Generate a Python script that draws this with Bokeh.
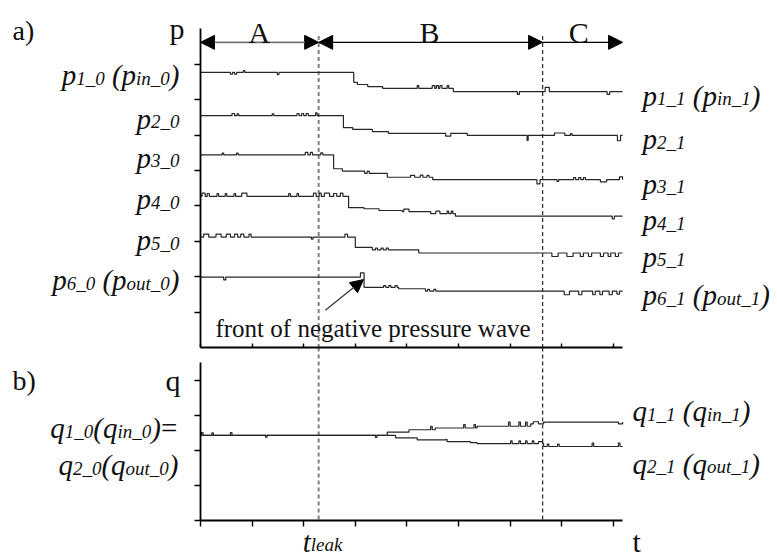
from bokeh.plotting import figure
from bokeh.models import (Label, Arrow, NormalHead, FixedTicker, LinearAxis, Range1d,
                          CustomLabelingPolicy)
from bokeh.embed import file_html
from bokeh.resources import INLINE

# ---------------- data (schematic units) ----------------
T_END = 8.18
P_TOP = 9.0
Q_TOP = 4.53
T_LEAK = 2.29
T_C = 6.63

t_ticks = [0, 1, 2, 3, 4, 5, 6, 7, 8]
p_ticks = [1, 2, 3, 4, 5, 6, 7, 8]
q_ticks = [0, 1, 2, 3, 4]

# pressure series: times of level changes and levels
p1_t = [0, 2.97, 3.04, 3.24, 3.53, 4.90]
p1_v = [7.77, 7.49, 7.43, 7.37, 7.32, 7.23]
p2_t = [0, 2.77, 2.95, 3.33, 3.64, 5.17]
p2_v = [6.55, 6.21, 6.16, 6.10, 6.05, 5.99]
p3_t = [0, 2.58, 2.75, 3.13, 3.62, 4.50]
p3_v = [5.44, 5.05, 4.98, 4.92, 4.81, 4.74]
p4_t = [0, 2.87, 3.17, 3.46, 3.91, 4.46, 4.94]
p4_v = [4.27, 3.95, 3.92, 3.87, 3.84, 3.78, 3.71]
p5_t = [0, 3.00, 3.33, 4.23]
p5_v = [3.12, 2.83, 2.76, 2.67]
p6_t = [0, 3.17, 3.84, 4.36]
p6_v = [1.99, 1.70, 1.66, 1.59]

# flow series
q1_t = [0, 3.62, 4.04, 4.55, 5.36, 6.40, 6.65]
q1_v = [2.44, 2.53, 2.60, 2.65, 2.70, 2.77, 2.82]
q2_t = [0, 3.78, 4.20, 4.75, 5.23, 5.36, 6.65]
q2_v = [2.44, 2.37, 2.31, 2.26, 2.23, 2.20, 2.12]

# measurement glitches: (time, deviation, duration)
p1_g = [(0.58, -0.05, 0.04), (0.66, -0.05, 0.04), (0.83, 0.05, 0.03), (1.49, -0.06, 0.03),
        (4.20, 0.08, 0.03), (4.49, 0.08, 0.05), (4.57, 0.08, 0.04), (4.64, 0.08, 0.04),
        (4.78, 0.08, 0.03), (6.14, -0.08, 0.04), (6.68, 0.12, 0.08), (7.88, -0.08, 0.05)]
p2_g = [(0.61, 0.06, 0.05), (0.71, 0.05, 0.03), (1.39, 0.05, 0.03), (1.87, 0.06, 0.04),
        (1.96, 0.06, 0.04), (2.05, 0.06, 0.04), (2.23, 0.08, 0.03), (4.75, -0.08, 0.10),
        (6.33, -0.14, 0.02), (6.86, 0.07, 0.20), (7.17, 0.05, 0.03), (8.08, -0.15, 0.06)]
p3_g = [(0.42, 0.05, 0.03), (0.70, 0.05, 0.03), (2.03, 0.07, 0.05), (2.13, 0.07, 0.04),
        (2.33, 0.06, 0.04), (3.13, 0.06, 0.05), (3.23, 0.06, 0.04), (4.07, 0.05, 0.08),
        (4.26, 0.06, 0.05), (4.39, 0.05, 0.04), (6.52, -0.12, 0.06), (6.91, -0.05, 0.03),
        (7.23, 0.06, 0.04), (7.33, 0.06, 0.04), (7.42, 0.06, 0.04), (7.75, -0.06, 0.12),
        (8.12, 0.08, 0.06)]
p4_g = [(0.03, 0.09, 0.06), (0.13, 0.08, 0.04), (0.32, 0.08, 0.03), (0.48, 0.08, 0.03),
        (0.65, 0.08, 0.03), (0.80, 0.09, 0.10), (1.71, 0.08, 0.03), (1.87, 0.08, 0.03),
        (2.19, 0.09, 0.05), (2.30, 0.09, 0.04), (2.40, 0.09, 0.10), (2.58, 0.08, 0.06),
        (2.71, 0.09, 0.05), (3.94, 0.07, 0.10), (4.56, 0.07, 0.08), (4.78, 0.07, 0.03),
        (4.86, 0.07, 0.03), (7.98, -0.08, 0.04)]
p5_g = [(0.06, 0.08, 0.10), (0.30, 0.08, 0.10), (0.50, 0.08, 0.08), (0.66, 0.08, 0.06),
        (0.78, 0.08, 0.06), (0.94, 0.08, 0.04), (2.15, -0.06, 0.03), (2.80, 0.08, 0.05),
        (3.39, 0.05, 0.04), (3.50, 0.05, 0.04), (3.60, 0.05, 0.04), (6.81, -0.10, 0.12),
        (7.10, -0.10, 0.12), (7.36, -0.10, 0.06), (7.52, -0.10, 0.06), (7.75, -0.10, 0.06),
        (7.90, -0.10, 0.05), (8.04, -0.10, 0.06)]
p6_g = [(0.45, -0.08, 0.04), (3.10, 0.12, 0.07), (3.55, 0.05, 0.04), (3.65, 0.05, 0.04),
        (3.77, 0.05, 0.04), (4.40, 0.05, 0.04), (4.52, 0.05, 0.04), (7.05, -0.10, 0.10),
        (7.33, -0.10, 0.06), (7.60, -0.10, 0.05), (7.74, -0.10, 0.05), (7.92, -0.10, 0.06),
        (8.07, -0.08, 0.05)]
q1_g = [(0.02, 0.08, 0.03), (0.22, 0.07, 0.03), (0.58, 0.08, 0.03), (1.26, -0.05, 0.03),
        (3.39, -0.06, 0.03), (4.46, 0.10, 0.03), (5.10, 0.10, 0.03), (5.30, 0.10, 0.03),
        (5.97, 0.12, 0.03), (6.17, 0.12, 0.03), (6.30, 0.12, 0.03), (6.45, 0.06, 0.10),
        (8.10, -0.05, 0.08)]
q2_g = [(4.75, 0.06, 0.03), (6.01, 0.08, 0.03), (6.17, 0.08, 0.03), (6.30, 0.08, 0.03),
        (6.43, 0.08, 0.03), (6.55, 0.06, 0.08), (6.72, 0.07, 0.03), (6.92, 0.07, 0.03),
        (7.59, 0.10, 0.03), (8.10, 0.10, 0.03)]

# ---------------- layout constants (pixels) ----------------
W, H = 777, 557
X0, XS = 200.0, 51.6      # screen x of t=0, px per t unit
YA0, YAS = 347.0, 35.4    # panel a: screen y of p=0, px per unit
YB0, YBS = 520.0, 34.9    # panel b: screen y of q=0, px per unit

FONT = "Liberation Serif"
LINE_C = "#262626"
TXT_C = "#111111"

W_IT = {"p": .5, "q": .5, "_": .5, " ": .25, "(": .333, ")": .333, "=": .675,
        "i": .278, "n": .5, "o": .5, "u": .5, "t": .278, "l": .278, "e": .444,
        "a": .5, "k": .444}


def twidth(s, size):
    return sum(W_IT.get(c, .5) for c in s) * size


def build(ts, vs, glitches):
    pts = set(ts) | {T_END}
    for g, d, w in glitches:
        pts.add(g)
        pts.add(round(g + w, 4))
    xs = sorted(p for p in pts if p <= T_END)
    ys = []
    for b in xs:
        idx = max(i for i, t in enumerate(ts) if t <= b + 1e-9)
        add = sum(d for g, d, w in glitches if g - 1e-9 <= b < g + w - 1e-9)
        ys.append(vs[idx] + add)
    return xs, ys


p = figure(width=W, height=H,
           x_range=Range1d(-X0 / XS, (W - X0) / XS),
           y_range=Range1d((YA0 - H) / YAS, YA0 / YAS),
           min_border=0, x_axis_location=None, y_axis_location=None,
           output_backend="svg", toolbar_location=None,
           background_fill_color="white", border_fill_color="white")
p.outline_line_color = None
p.grid.visible = False
p.extra_y_ranges = {"b": Range1d((YB0 - H) / YBS, YB0 / YBS)}


def rich(x, y, segs, align="left", x_off=0, y_off=0, yname="default"):
    M, S = 29, 19
    parts = []
    for text, kind in segs:
        size = M if kind == "m" else S
        dy = 0 if kind == "m" else -3
        style = "normal" if text == "=" else "italic"
        parts.append((text, size, dy, style))
    total = sum(twidth(t, sz) for t, sz, _, _ in parts)
    cur = x_off if align == "left" else x_off - total
    for t, sz, dy, style in parts:
        lead = len(t) - len(t.lstrip(" "))
        txt = t.lstrip(" ")
        pos = cur + lead * W_IT[" "] * sz
        p.add_layout(Label(x=x, y=y, x_offset=pos, y_offset=y_off + dy, text=txt,
                           y_range_name=yname, text_font=FONT, text_font_style=style,
                           text_font_size=f"{sz}px", text_color=TXT_C,
                           text_baseline="alphabetic", text_align="left"))
        cur += twidth(t, sz)


def plain(x, y, text, size, x_off=0, y_off=0, align="left", yname="default"):
    p.add_layout(Label(x=x, y=y, x_offset=x_off, y_offset=y_off, text=text,
                       y_range_name=yname, text_font=FONT, text_font_size=f"{size}px",
                       text_color=TXT_C, text_baseline="alphabetic", text_align=align))


def axis(ticks, bounds, loc, tick_in, side, yname="default"):
    ax = LinearAxis(ticker=FixedTicker(ticks=ticks), bounds=bounds, fixed_location=loc,
                    y_range_name=yname, major_tick_in=tick_in, major_tick_out=0,
                    minor_tick_line_color=None, major_label_text_font_size="0px",
                    major_label_standoff=0,
                    major_label_policy=CustomLabelingPolicy(code="return []"),
                    axis_line_width=1.8, axis_line_color="black",
                    major_tick_line_width=1.4, major_tick_line_color="black")
    p.add_layout(ax, side)


# axes: panel a (left axis with ticks pointing left, bottom axis ticks pointing up)
axis(p_ticks, (0, P_TOP), 0, 6, "right")
axis(t_ticks, (0, T_END), 0, 4, "below")
# panel b (left axis ticks pointing left, bottom axis ticks pointing down)
axis(q_ticks, (0, Q_TOP), 0, 6, "right", "b")
axis(t_ticks, (0, T_END), 0, 6, "above", "b")

# vertical phase boundaries through both panels
GAP_B = (YB0 - YA0) / YBS
for tx, col, lw in [(T_LEAK, "#808080", 2.0), (T_C, "#333333", 1.3)]:
    p.line([tx, tx], [8.8, 0], line_color=col, line_width=lw, line_dash="4 3")
    p.line([tx, tx], [GAP_B, 0], y_range_name="b", line_color=col, line_width=lw,
           line_dash="4 3")

# pressure curves
p_series = [(p1_t, p1_v, p1_g), (p2_t, p2_v, p2_g), (p3_t, p3_v, p3_g),
            (p4_t, p4_v, p4_g), (p5_t, p5_v, p5_g), (p6_t, p6_v, p6_g)]
for ts, vs, gl in p_series:
    xs, ys = build(ts, vs, gl)
    p.step(xs, ys, mode="after", line_color=LINE_C, line_width=1.2)

# flow curves
for ts, vs, gl in [(q1_t, q1_v, q1_g), (q2_t, q2_v, q2_g)]:
    xs, ys = build(ts, vs, gl)
    p.step(xs, ys, mode="after", y_range_name="b", line_color=LINE_C, line_width=1.2)


def head():
    return NormalHead(size=14, fill_color="black", line_color="black")


# phase arrows
ARR_Y = 8.62
p.add_layout(Arrow(x_start=0, y_start=ARR_Y, x_end=T_LEAK, y_end=ARR_Y, start=head(),
                   end=head(), line_color="#777777", line_width=1.6))
p.add_layout(Arrow(x_start=T_LEAK, y_start=ARR_Y, x_end=T_C, y_end=ARR_Y, start=head(),
                   end=head(), line_color="black", line_width=1.4))
p.add_layout(Arrow(x_start=T_C, y_start=ARR_Y, x_end=T_END, y_end=ARR_Y, start=None,
                   end=head(), line_color="black", line_width=1.4))

plain(1.14, P_TOP, "A", 30, y_off=-4, align="center")
plain(4.44, P_TOP, "B", 30, y_off=-4, align="center")
plain(7.33, P_TOP, "C", 30, y_off=-4, align="center")
plain(0, P_TOP, "a)", 28, x_off=-188, y_off=-2)
plain(0, P_TOP, "p", 30, x_off=-16, y_off=0, align="right")

left_p = [
    [("p", "m"), ("1_0", "s"), (" (", "m"), ("p", "m"), ("in_0", "s"), (")", "m")],
    [("p", "m"), ("2_0", "s")],
    [("p", "m"), ("3_0", "s")],
    [("p", "m"), ("4_0", "s")],
    [("p", "m"), ("5_0", "s")],
    [("p", "m"), ("6_0", "s"), (" (", "m"), ("p", "m"), ("out_0", "s"), (")", "m")],
]
right_p = [
    [("p", "m"), ("1_1", "s"), (" (", "m"), ("p", "m"), ("in_1", "s"), (")", "m")],
    [("p", "m"), ("2_1", "s")],
    [("p", "m"), ("3_1", "s")],
    [("p", "m"), ("4_1", "s")],
    [("p", "m"), ("5_1", "s")],
    [("p", "m"), ("6_1", "s"), (" (", "m"), ("p", "m"), ("out_1", "s"), (")", "m")],
]
for (ts, vs, gl), ls, rs in zip(p_series, left_p, right_p):
    rich(0, vs[0], ls, align="right", x_off=-21, y_off=-3)
    rich(T_END, vs[-1], rs, align="left", x_off=20, y_off=-4)

p.add_layout(Arrow(x_start=2.42, y_start=1.05, x_end=3.16, y_end=1.92,
                   end=NormalHead(size=13, fill_color="black", line_color="black"),
                   line_color="#333333", line_width=1.2))
plain(0.29, 0.54, "front of negative pressure wave", 25)

# panel b texts
plain(0, Q_TOP, "b)", 28, x_off=-188, y_off=-18, yname="b")
plain(0, Q_TOP, "q", 30, x_off=-20, y_off=-18, align="right", yname="b")
rich(0, q1_v[0], [("q", "m"), ("1_0", "s"), ("(", "m"), ("q", "m"), ("in_0", "s"),
                  (")", "m"), ("=", "m")], align="right", x_off=-20, y_off=7, yname="b")
rich(0, q2_v[0], [("q", "m"), ("2_0", "s"), ("(", "m"), ("q", "m"), ("out_0", "s"),
                  (")", "m")], align="right", x_off=-22, y_off=-30, yname="b")
rich(T_END, q1_v[-1], [("q", "m"), ("1_1", "s"), (" (", "m"), ("q", "m"), ("in_1", "s"),
                       (")", "m")], align="left", x_off=10, y_off=11, yname="b")
rich(T_END, q2_v[-1], [("q", "m"), ("2_1", "s"), (" (", "m"), ("q", "m"), ("out_1", "s"),
                       (")", "m")], align="left", x_off=10, y_off=-17, yname="b")

plain(T_END, 0, "t", 30, x_off=10, y_off=-21, yname="b")
rich(T_LEAK, 0, [("t", "m"), ("leak", "s")], align="left", x_off=-16, y_off=-21, yname="b")

open("out.html", "w").write(file_html(p, INLINE))
